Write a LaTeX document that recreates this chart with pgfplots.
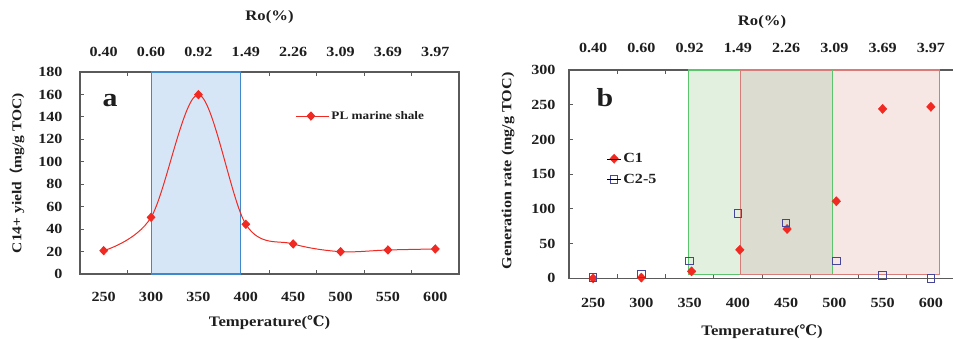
\documentclass[border=0pt]{standalone}
\usepackage{fontspec}
\setmainfont{Liberation Serif}[FakeStretch=1.15]
\newfontfamily\dejavu{DejaVu Serif}[FakeStretch=1.0]
\newfontfamily\cjk{Noto Sans CJK SC}
\usepackage{pgfplots}
\pgfplotsset{compat=1.18}
\definecolor{axgray}{HTML}{5A5A5A}
\definecolor{txt}{HTML}{1E1E1E}
\definecolor{lred}{HTML}{F02A22}
\definecolor{bfill}{HTML}{D6E6F6}
\definecolor{bedge}{HTML}{4088CC}
\definecolor{gfill}{HTML}{E2F0E0}
\definecolor{gedge}{HTML}{5CC46C}
\definecolor{rfill}{HTML}{F6E7E5}
\definecolor{redge}{HTML}{D87C7A}
\definecolor{ofill}{HTML}{DCDCD0}
\definecolor{sqblue}{HTML}{45459C}
\begin{document}
\begin{tikzpicture}
\useasboundingbox (0,0) rectangle (953pt,339pt);
\pgfplotsset{
  common/.style={scale only axis, anchor=south west, xmin=225, xmax=625,
    axis line style={draw=axgray, line width=1.3pt},
    tick style={draw=axgray, line width=1pt},
    tick align=inside, major tick length=4pt,
    ticklabel style={font=\bfseries\fontsize{14}{16}\selectfont, text=txt},
    /pgf/number format/assume math mode=true,
    clip=false,
    xtick={275,325,...,575}, xticklabels={},
    extra x ticks={250,300,...,600},
    extra x tick labels={250,300,350,400,450,500,550,600},
    extra x tick style={tick style={draw=none}},
    ytick pos=left,
  },
  topax/.style={scale only axis, anchor=south west, xmin=225, xmax=625, ymin=0, ymax=1,
    axis x line*=top, axis y line=none, axis line style={draw=none},
    xtick={250,300,...,600}, major tick length=0pt, tick style={draw=none},
    xticklabels={0.40,0.60,0.92,1.49,2.26,3.09,3.69,3.97},
    ticklabel style={font=\bfseries\fontsize{14}{16}\selectfont, text=txt},
  },
}
% ---------------- panel a ----------------
\begin{axis}[common, at={(80pt,65pt)}, width=379pt, height=202pt,
  ymin=0, ymax=180, ytick={0,20,...,180},
  xticklabel style={yshift=-15pt}, yticklabel style={xshift=-14pt},
  legend style={at={(rel axis cs:0.56,0.782)}, anchor=west, draw=none, fill=none,
    font=\bfseries\fontsize{11.5}{13}\selectfont, text=txt},
  legend image code/.code={\draw[mark repeat=2,mark phase=2,#1] plot coordinates {(0pt,0pt) (15pt,0pt) (30pt,0pt)};\path (0pt,0pt) -- (33pt,0pt);},
]
\addplot[fill=bfill, draw=bedge, line width=1.1pt, forget plot] coordinates {(300,0) (394,0) (394,180) (300,180)} -- cycle;
\addplot[lred, line width=1pt, smooth, tension=0.55, mark=diamond*, mark size=4pt,
  mark options={fill=lred, draw=lred, xscale=1.25}]
  coordinates {(250,20.8) (300,50.5) (350,159.8) (400,44.3) (450,26.8) (500,19.9) (550,21.4) (600,22.3)};
\addlegendentry{PL marine shale}
\end{axis}
\begin{axis}[topax, at={(80pt,65pt)}, width=379pt, height=202pt,
  xticklabel style={yshift=12pt}]
\end{axis}
% ---------------- panel b ----------------
\begin{axis}[common, at={(569pt,60.7pt)}, width=386pt, height=208.3pt,
  ymin=0, ymax=300, ytick={0,50,...,300},
  xticklabel style={yshift=-16pt}, yticklabel style={xshift=-10pt},
  legend style={at={(rel axis cs:0.09,0.524)}, anchor=west, draw=none, fill=none,
    font=\bfseries\fontsize{14}{16}\selectfont, text=txt, row sep=6pt},
  legend cell align=left,
  legend image code/.code={\draw[#1] plot coordinates {(7pt,0pt)};\path (0pt,0pt) -- (14pt,0pt);},
]
\addplot[fill=gfill, draw=none, forget plot] coordinates {(349,6) (498,6) (498,300) (349,300)} -- cycle;
\addplot[fill=rfill, draw=none, forget plot] coordinates {(403,6) (608.5,6) (608.5,300) (403,300)} -- cycle;
\addplot[fill=ofill, draw=none, forget plot] coordinates {(403,6) (498,6) (498,300) (403,300)} -- cycle;
\addplot[draw=gedge, line width=1.1pt, forget plot] coordinates {(349,6) (498,6) (498,300) (349,300)} -- cycle;
\addplot[draw=redge, line width=1.1pt, forget plot] coordinates {(403,6) (608.5,6) (608.5,300) (403,300)} -- cycle;
\addplot[draw=gedge, line width=1.1pt, forget plot] coordinates {(498,6) (498,300)};
\addplot[only marks, mark=diamond*, mark size=4.6pt, mark options={fill=lred, draw=lred, xscale=1.25}]
  coordinates {(250,0) (300,1) (352,10) (402,41) (451,71) (502,111) (550,244) (600,247)};
\addlegendentry{C1}
\addplot[only marks, mark=square, mark size=3.8pt, mark options={draw=sqblue, line width=0.9pt}]
  coordinates {(250,1) (300,6) (350,25) (400,93) (450,80) (502,25) (550,4) (600,0)};
\addlegendentry{C2-5}
\end{axis}
\begin{axis}[topax, at={(569pt,60.7pt)}, width=386pt, height=208.3pt,
  xticklabel style={yshift=14pt}]
\end{axis}
% ---------------- texts ----------------
\node[font=\bfseries\fontsize{14.5}{16}\selectfont, text=txt] at (269.5pt,322pt) {Ro(\%)};
\node[font=\bfseries\fontsize{14.5}{16}\selectfont, text=txt] at (762pt,317pt) {Ro(\%)};
\node[font=\bfseries\fontsize{14.5}{16}\selectfont, text=txt] at (269.5pt,16pt) {Temperature({\dejavu ℃})};
\node[font=\bfseries\fontsize{14.5}{16}\selectfont, text=txt] at (762pt,7.5pt) {Temperature({\dejavu ℃})};
\node[font=\bfseries\fontsize{13.5}{15}\selectfont, text=txt, rotate=90] at (17pt,166pt) {C14+ yield{\cjk （}mg/g TOC)};
\node[font=\bfseries\fontsize{14}{16}\selectfont, text=txt, rotate=90] at (508pt,168pt) {Generation rate (mg/g TOC)};
\node[font=\bfseries\fontsize{26}{28}\selectfont, text=txt] at (110pt,238pt) {a};
\node[font=\bfseries\fontsize{26}{28}\selectfont, text=txt] at (605pt,241pt) {b};
\end{tikzpicture}
\end{document}
